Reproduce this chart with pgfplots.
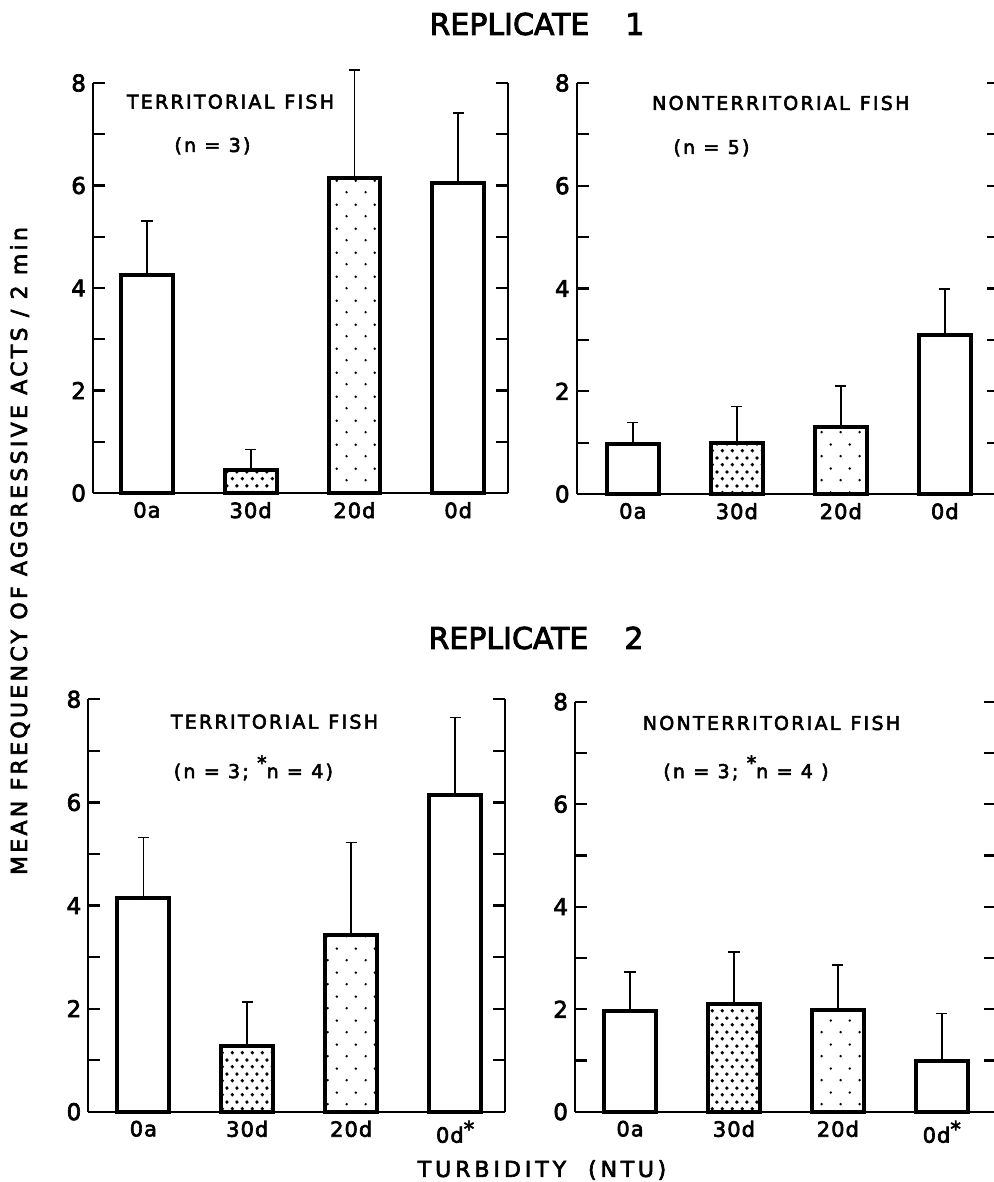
\documentclass[border=0pt]{standalone}
\usepackage{fontspec}
\setmainfont{DejaVu Sans}[FakeBold=3]
\usepackage{pgfplots}
\pgfplotsset{compat=1.18}
\usetikzlibrary{patterns.meta}

\tikzdeclarepattern{
  name=densedots, type=uncolored,
  bounding box={(0pt,0pt) and (5pt,7pt)},
  tile size={(5pt,7pt)},
  code={\fill (1.25pt,1.75pt) circle (1pt); \fill (3.75pt,5.25pt) circle (1pt);}
}
\tikzdeclarepattern{
  name=sparsedots, type=uncolored,
  bounding box={(0pt,0pt) and (9.5pt,12pt)},
  tile size={(9.5pt,12pt)},
  code={\fill (2.4pt,3pt) circle (0.7pt); \fill (7.15pt,9pt) circle (0.7pt);}
}

\pgfplotsset{
  panel/.style={
    scale only axis, anchor=south west, clip=false,
    ymin=0, ymax=8,
    ytick={0,2,4,6,8}, minor ytick={1,3,5,7},
    xtick={0,1,2,3},
    axis x line*=bottom, axis y line*=box,
    yticklabel pos=left,
    tick align=inside,
    major tick length=6pt, minor tick length=6pt,
    x tick style={draw=none},
    axis line style={line width=1.1pt},
    y tick style={line width=1.1pt, black},
    minor y tick style={line width=1.1pt, black},
    /pgf/number format/assume math mode=true,
    yticklabel style={font=\fontsize{11.5}{13}\selectfont},
    xticklabel style={font=\fontsize{10.5}{12}\selectfont\addfontfeature{LetterSpace=5}, yshift=-1pt},
  },
  bars/.style={ybar, bar width=0.5, bar shift=0pt, draw=black, line width=2pt,
    error bars/y dir=plus, error bars/y explicit,
    error bars/error bar style={line width=0.8pt},
    error bars/error mark options={rotate=90, line width=0.8pt, mark size=2.8pt, black}},
}

\newcommand{\ann}{\fontsize{9.5}{11}\selectfont\addfontfeature{LetterSpace=12}}

\begin{document}
\begin{tikzpicture}

% Replicate 1, territorial
\begin{axis}[panel, at={(46.5pt,-246.5pt)}, width=207.5pt, height=205pt,
  xmin=-0.52, xmax=3.48, xticklabels={0a,30d,20d,0d}]
\addplot[bars, fill=white] coordinates {(0,4.25) +- (0,1.06) (3,6.04) +- (0,1.38)};
\addplot[bars, pattern={densedots}, pattern color=black] coordinates {(1,0.44) +- (0,0.41)};
\addplot[bars, pattern={sparsedots}, pattern color=black] coordinates {(2,6.14) +- (0,2.11)};
\end{axis}

% Replicate 1, nonterritorial
\begin{axis}[panel, at={(288.35pt,-247pt)}, width=211.1pt, height=205.5pt,
  xmin=-0.54, xmax=3.52, xticklabels={0a,30d,20d,0d}]
\addplot[bars, fill=white] coordinates {(0,0.97) +- (0,0.42) (3,3.10) +- (0,0.89)};
\addplot[bars, pattern={densedots}, pattern color=black] coordinates {(1,0.99) +- (0,0.71)};
\addplot[bars, pattern={sparsedots}, pattern color=black] coordinates {(2,1.31) +- (0,0.79)};
\end{axis}

% Replicate 2, territorial
\begin{axis}[panel, at={(44.15pt,-555.85pt)}, width=208.35pt, height=206.2pt,
  xmin=-0.53, xmax=3.48, xticklabels={0a,30d,20d,{0d\raisebox{0.3em}{*}}}]
\addplot[bars, fill=white] coordinates {(0,4.14) +- (0,1.18) (3,6.14) +- (0,1.51)};
\addplot[bars, pattern={densedots}, pattern color=black] coordinates {(1,1.27) +- (0,0.86)};
\addplot[bars, pattern={sparsedots}, pattern color=black] coordinates {(2,3.43) +- (0,1.79)};
\end{axis}

% Replicate 2, nonterritorial
\begin{axis}[panel, at={(287.5pt,-555.85pt)}, width=210.4pt, height=205pt,
  xmin=-0.53, xmax=3.52, xticklabels={0a,30d,20d,{0d\raisebox{0.3em}{*}}}]
\addplot[bars, fill=white] coordinates {(0,1.97) +- (0,0.76) (3,0.98) +- (0,0.94)};
\addplot[bars, pattern={densedots}, pattern color=black] coordinates {(1,2.10) +- (0,1.02)};
\addplot[bars, pattern={sparsedots}, pattern color=black] coordinates {(2,1.98) +- (0,0.88)};
\end{axis}

% titles and labels
\node[font=\fontsize{15}{18}\selectfont] at (268.5pt,-12pt) {REPLICATE\hspace{18pt}1};
\node[font=\fontsize{15}{18}\selectfont] at (268pt,-319pt) {REPLICATE\hspace{18pt}2};
\node[rotate=90, font=\fontsize{11}{13}\selectfont\addfontfeature{LetterSpace=15}] at (10pt,-275.5pt)
  {MEAN\ FREQUENCY\ OF\ AGGRESSIVE\ ACTS\ /\ 2\ min};
\node[font=\fontsize{11}{13}\selectfont\addfontfeature{LetterSpace=18}] at (271pt,-585pt)
  {TURBIDITY\ \ (N\,T\,U\,)};

% panel annotations
\node[font=\ann] at (115.25pt,-50.85pt) {TERRITORIAL\hspace{5pt}FISH};
\node[font=\ann] at (106.25pt,-73pt) {(n = 3)};
\node[font=\ann] at (390.4pt,-51.5pt) {NONTERRITORIAL\hspace{5pt}FISH};
\node[font=\ann] at (355.75pt,-74pt) {(n = 5)};
\node[font=\ann] at (137.25pt,-360.85pt) {TERRITORIAL\hspace{5pt}FISH};
\node[font=\ann] at (126.7pt,-384pt) {(n = 3;\ \raisebox{0.45em}{*}n = 4)};
\node[font=\ann] at (385.75pt,-361.5pt) {NONTERRITORIAL\hspace{5pt}FISH};
\node[font=\ann] at (373pt,-384pt) {(n = 3;\ \raisebox{0.45em}{*}n = 4 )};

\pgfresetboundingbox
\useasboundingbox (0pt,0pt) rectangle (497pt,-591pt);
\end{tikzpicture}
\end{document}
